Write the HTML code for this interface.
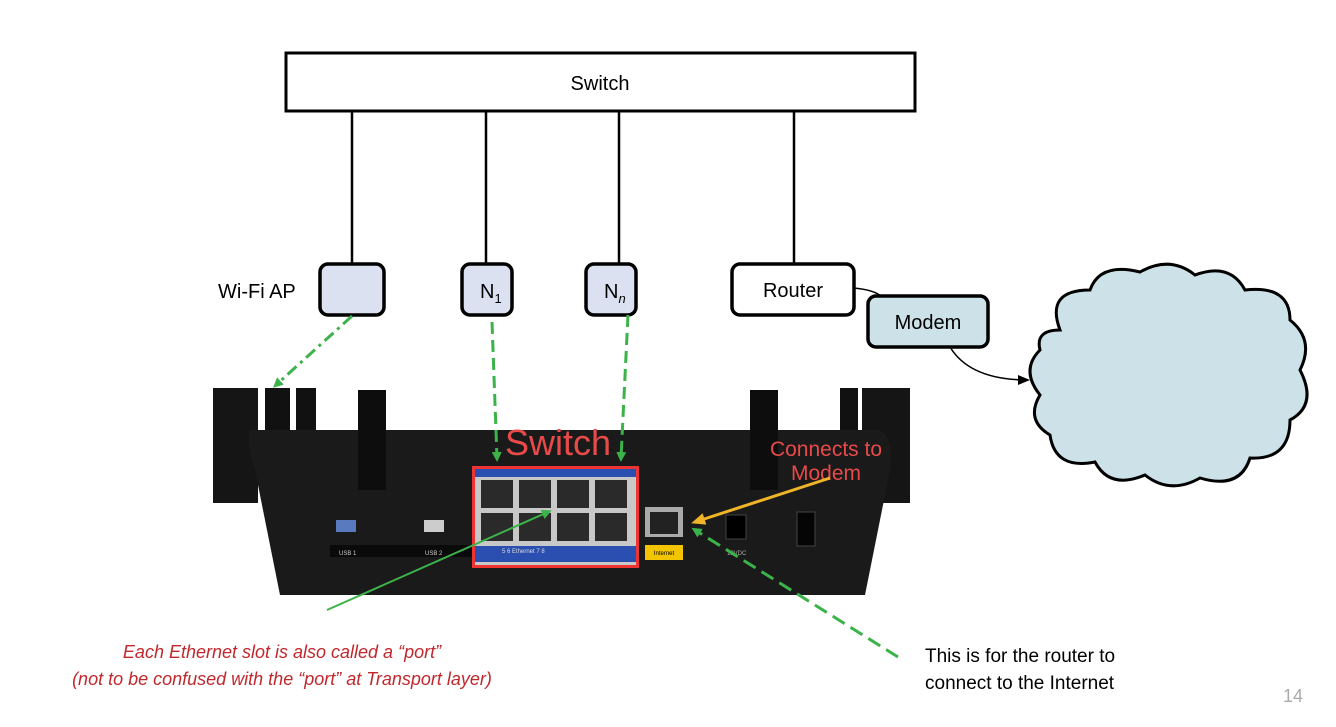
<!DOCTYPE html>
<html><head><style>
body{margin:0;background:#fff;width:1336px;height:722px;overflow:hidden;font-family:"Liberation Sans",sans-serif}
</style></head><body>
<svg width="1336" height="722" viewBox="0 0 1336 722" xmlns="http://www.w3.org/2000/svg" font-family="Liberation Sans, sans-serif">
<defs>
<marker id="ga" markerWidth="10" markerHeight="10" refX="6" refY="5" orient="auto" markerUnits="userSpaceOnUse"><path d="M0,0 L10,5 L0,10 z" fill="#3cb34a"/></marker>
<marker id="ba" markerWidth="12" markerHeight="10" refX="10" refY="5" orient="auto" markerUnits="userSpaceOnUse"><path d="M0,0 L12,5 L0,10 z" fill="#000"/></marker>
<marker id="ya" markerWidth="14" markerHeight="12" refX="10" refY="6" orient="auto" markerUnits="userSpaceOnUse"><path d="M0,0 L14,6 L0,12 z" fill="#f0b429"/></marker>
</defs>
<rect x="286" y="53" width="629" height="58" fill="#fff" stroke="#000" stroke-width="3"/>
<text x="600" y="90" font-size="20" text-anchor="middle">Switch</text>
<g stroke="#000" stroke-width="2.5">
<line x1="352" y1="111" x2="352" y2="264"/><line x1="486" y1="111" x2="486" y2="264"/>
<line x1="619" y1="111" x2="619" y2="264"/><line x1="794" y1="111" x2="794" y2="264"/>
</g>
<g stroke="#000" stroke-width="3.5">
<rect x="320" y="264" width="64" height="51" rx="8" fill="#dbe1f0"/>
<rect x="462" y="264" width="50" height="51" rx="8" fill="#dbe1f0"/>
<rect x="586" y="264" width="50" height="51" rx="8" fill="#dbe1f0"/>
<rect x="732" y="264" width="122" height="51" rx="8" fill="#fff"/>
<rect x="868" y="296" width="120" height="51" rx="8" fill="#cde2e8"/>
</g>
<text x="218" y="298" font-size="20">Wi-Fi AP</text>
<text x="480" y="298" font-size="20">N<tspan font-size="13" dy="5">1</tspan></text>
<text x="604" y="298" font-size="20">N<tspan font-size="13" dy="5" font-style="italic">n</tspan></text>
<text x="793" y="297" font-size="20" text-anchor="middle">Router</text>
<text x="928" y="329" font-size="20" text-anchor="middle">Modem</text>
<path d="M854,288 Q875,290 882,297" stroke="#000" stroke-width="1.5" fill="none"/>
<path d="M950,347 Q970,380 1028,380" stroke="#000" stroke-width="1.5" fill="none" marker-end="url(#ba)"/>
<path d="M1060,330 Q1045,290 1090,290 Q1100,262 1140,272 Q1170,255 1195,275 Q1230,262 1245,290 Q1290,285 1290,320 Q1315,340 1300,370 Q1318,405 1290,420 Q1290,460 1250,458 Q1240,490 1200,478 Q1170,495 1145,475 Q1110,490 1095,462 Q1055,470 1050,435 Q1025,420 1040,395 Q1020,370 1040,350 Q1035,330 1060,330 Z" fill="#cde2e8" stroke="#000" stroke-width="3"/>
<g>
<rect x="213" y="388" width="45" height="115" fill="#151515"/>
<rect x="265" y="388" width="25" height="115" fill="#111"/>
<rect x="296" y="388" width="20" height="60" fill="#111"/>
<rect x="862" y="388" width="48" height="115" fill="#151515"/>
<rect x="840" y="388" width="18" height="60" fill="#111"/>
<path d="M250,430 L880,430 Q895,440 890,470 L865,595 L280,595 L255,470 Q245,440 250,430 Z" fill="#1a1a1a"/>
<rect x="358" y="390" width="28" height="100" fill="#0d0d0d"/>
<rect x="750" y="390" width="28" height="100" fill="#0d0d0d"/>
<rect x="330" y="545" width="310" height="12" fill="#0a0a0a"/>
<rect x="336" y="520" width="20" height="12" fill="#5a7ac0"/>
<rect x="424" y="520" width="20" height="12" fill="#ccc"/>
<text x="339" y="555" font-size="6" fill="#ccc">USB 1</text>
<text x="425" y="555" font-size="6" fill="#ccc">USB 2</text>
<rect x="472" y="466" width="167" height="102" fill="#e33" />
<rect x="475" y="469" width="161" height="96" fill="#c8c8c8"/>
<rect x="475" y="469" width="161" height="8" fill="#2b4fb0"/>
<rect x="475" y="546" width="161" height="16" fill="#2b4fb0"/>
<g fill="#2a2a2a">
<rect x="481" y="480" width="32" height="28"/><rect x="519" y="480" width="32" height="28"/><rect x="557" y="480" width="32" height="28"/><rect x="595" y="480" width="32" height="28"/>
<rect x="481" y="513" width="32" height="28"/><rect x="519" y="513" width="32" height="28"/><rect x="557" y="513" width="32" height="28"/><rect x="595" y="513" width="32" height="28"/>
</g>
<text x="502" y="553" font-size="6" fill="#ddd">5        6  Ethernet  7          8</text>
<rect x="645" y="507" width="38" height="30" fill="#aaa"/><rect x="650" y="512" width="28" height="22" fill="#222"/>
<rect x="645" y="545" width="38" height="15" fill="#f2c500"/>
<text x="664" y="555" font-size="6" text-anchor="middle">Internet</text>
<rect x="726" y="515" width="20" height="24" fill="#000" stroke="#444"/>
<text x="727" y="555" font-size="6" fill="#aaa">12VDC</text>
<rect x="797" y="512" width="18" height="34" fill="#050505" stroke="#444"/>
<text x="558" y="455" font-size="36" fill="#e84a4a" text-anchor="middle">Switch</text>
<text x="826" y="456" font-size="21" fill="#e84a4a" text-anchor="middle">Connects to</text>
<text x="826" y="480" font-size="21" fill="#e84a4a" text-anchor="middle">Modem</text>
</g>
<line x1="352" y1="316" x2="276" y2="385" stroke="#3cb34a" stroke-width="3" stroke-dasharray="12,5,3,5" marker-end="url(#ga)"/>
<line x1="492" y1="322" x2="497" y2="458" stroke="#3cb34a" stroke-width="3" stroke-dasharray="12,6" marker-end="url(#ga)"/>
<line x1="628" y1="315" x2="621" y2="458" stroke="#3cb34a" stroke-width="3" stroke-dasharray="12,6" marker-end="url(#ga)"/>
<line x1="898" y1="657" x2="695" y2="530" stroke="#3cb34a" stroke-width="3" stroke-dasharray="14,7" marker-end="url(#ga)"/>
<line x1="327" y1="610" x2="548" y2="512" stroke="#3cb34a" stroke-width="2" marker-end="url(#ga)"/>
<line x1="830" y1="478" x2="695" y2="522" stroke="#f0b429" stroke-width="3" marker-end="url(#ya)"/>
<text x="282" y="658" font-size="18" fill="#c0282d" font-style="italic" text-anchor="middle">Each Ethernet slot is also called a “port”</text>
<text x="282" y="685" font-size="18" fill="#c0282d" font-style="italic" text-anchor="middle">(not to be confused with the “port” at Transport layer)</text>
<text x="925" y="662" font-size="19">This is for the router to</text>
<text x="925" y="689" font-size="19">connect to the Internet</text>
<text x="1283" y="702" font-size="18" fill="#aaa">14</text>
</svg>
</body></html>
